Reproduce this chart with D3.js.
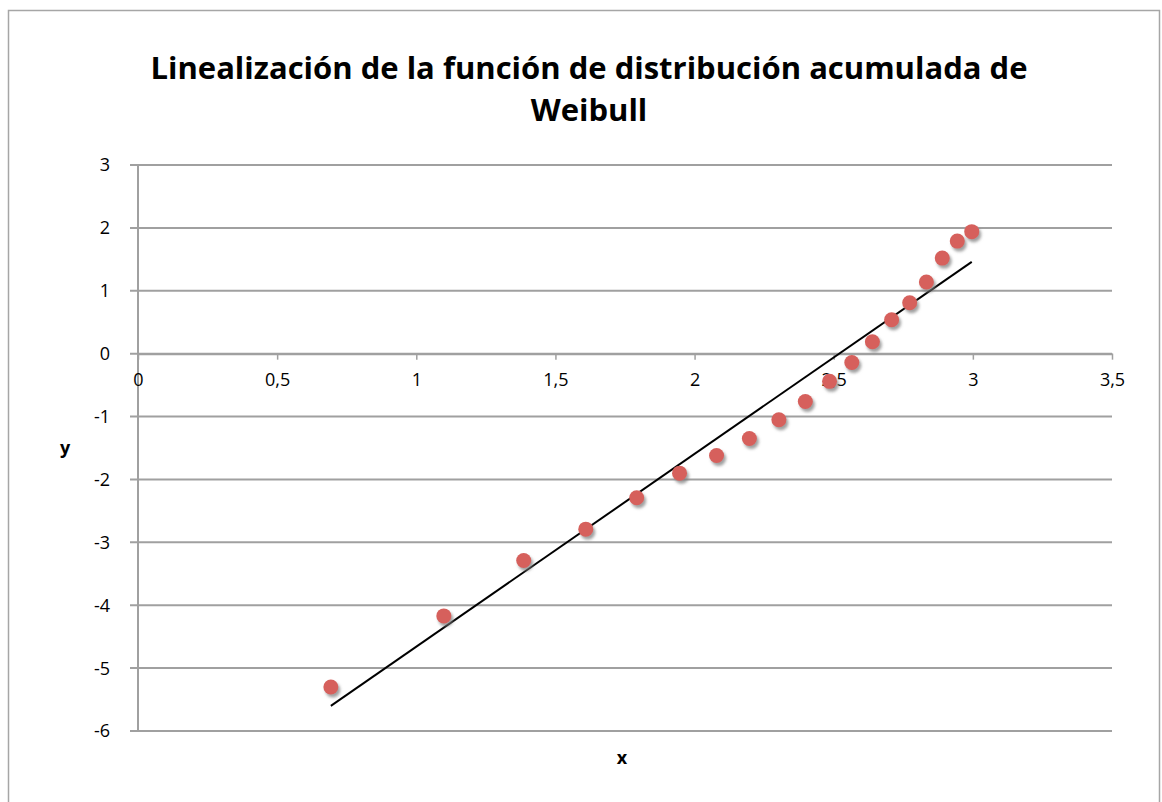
<!DOCTYPE html>
<html>
<head>
<meta charset="utf-8">
<script src="https://cdn.jsdelivr.net/npm/d3@7"></script>
<style>
  body { margin: 0; background: #fff; }
  svg text { font-family: "Open Sans", "Liberation Sans", sans-serif; fill: #000; }
</style>
</head>
<body>
<div id="chart"></div>
<script>
// data: x = ln(t), y = ln(-ln(1-F))
var xValues = [0.693, 1.099, 1.386, 1.609, 1.792, 1.946, 2.079, 2.197, 2.303, 2.398,
               2.485, 2.565, 2.639, 2.708, 2.773, 2.833, 2.890, 2.944, 2.996];
var yValues = [-5.30, -4.17, -3.29, -2.79, -2.29, -1.90, -1.62, -1.35, -1.05, -0.76,
               -0.44, -0.14, 0.19, 0.54, 0.81, 1.14, 1.52, 1.79, 1.94];

// linear trendline endpoints
var trendX = [0.693, 2.996];
var trendY = [-5.60, 1.46];

var xTicks = [0, 0.5, 1, 1.5, 2, 2.5, 3, 3.5];
var yTicks = [-6, -5, -4, -3, -2, -1, 0, 1, 2, 3];

var titleLines = ["Linealización de la función de distribución acumulada de", "Weibull"];

var width = 1162,
    height = 802;

var svg = d3.select("#chart").append("svg")
    .attr("width", width)
    .attr("height", height);

// outer chart border
svg.append("rect")
    .attr("x", 8.5).attr("y", 10.5)
    .attr("width", 1151).attr("height", 820)
    .attr("fill", "none")
    .attr("stroke", "#a6a6a6")
    .attr("stroke-width", 1.5);

var defs = svg.append("defs");
var shadow = defs.append("filter")
    .attr("id", "shadow")
    .attr("x", "-50%").attr("y", "-50%")
    .attr("width", "200%").attr("height", "200%");
shadow.append("feDropShadow")
    .attr("dx", 2).attr("dy", 3)
    .attr("stdDeviation", 1.8)
    .attr("flood-color", "#777")
    .attr("flood-opacity", 0.7);

var x = d3.scaleLinear().domain([0, 3.5]).range([138, 1112]);
var y = d3.scaleLinear().domain([-6, 3]).range([731, 165]);

// horizontal gridlines
svg.append("g")
    .selectAll("line")
    .data(yTicks)
    .enter().append("line")
    .attr("x1", x(0) - 8)
    .attr("x2", x(3.5))
    .attr("y1", function(d) { return y(d); })
    .attr("y2", function(d) { return y(d); })
    .attr("stroke", "#a0a0a0")
    .attr("stroke-width", 2);

// y axis line
svg.append("line")
    .attr("x1", x(0)).attr("x2", x(0))
    .attr("y1", y(3)).attr("y2", y(-6))
    .attr("stroke", "#a0a0a0")
    .attr("stroke-width", 2);

// y tick labels
svg.append("g")
    .selectAll("text")
    .data(yTicks)
    .enter().append("text")
    .attr("x", 110)
    .attr("y", function(d) { return y(d); })
    .attr("dy", "0.36em")
    .attr("text-anchor", "end")
    .attr("font-size", 18)
    .text(function(d) { return String(d); });

// x axis at y = 0
var xAxis = svg.append("g")
    .attr("transform", "translate(0," + y(0) + ")")
    .call(d3.axisBottom(x)
        .tickValues(xTicks)
        .tickSize(6)
        .tickSizeOuter(0)
        .tickPadding(14)
        .tickFormat(function(d) { return String(d).replace(".", ","); }));
xAxis.select(".domain").attr("stroke", "#a0a0a0").attr("stroke-width", 2);
xAxis.selectAll(".tick line").attr("stroke", "#a0a0a0").attr("stroke-width", 1.5);
xAxis.selectAll(".tick text")
    .attr("font-size", 18)
    .attr("font-family", "\"Open Sans\", \"Liberation Sans\", sans-serif")
    .attr("fill", "#000");

// trendline
svg.append("line")
    .attr("x1", x(trendX[0])).attr("y1", y(trendY[0]))
    .attr("x2", x(trendX[1])).attr("y2", y(trendY[1]))
    .attr("stroke", "#000")
    .attr("stroke-width", 2);

// points
svg.append("g")
    .attr("filter", "url(#shadow)")
    .selectAll("circle")
    .data(xValues)
    .enter().append("circle")
    .attr("cx", function(d) { return x(d); })
    .attr("cy", function(d, i) { return y(yValues[i]); })
    .attr("r", 7.5)
    .attr("fill", "#d6605c");

// title
svg.append("g")
    .selectAll("text")
    .data(titleLines)
    .enter().append("text")
    .attr("x", 589)
    .attr("y", function(d, i) { return 79 + i * 42; })
    .attr("text-anchor", "middle")
    .attr("font-size", 31)
    .attr("font-weight", "bold")
    .text(function(d) { return d; });

// axis titles
svg.append("text")
    .attr("x", 622).attr("y", 764)
    .attr("text-anchor", "middle")
    .attr("font-size", 18)
    .attr("font-weight", "bold")
    .text("x");

svg.append("text")
    .attr("x", 65).attr("y", 454)
    .attr("text-anchor", "middle")
    .attr("font-size", 18)
    .attr("font-weight", "bold")
    .text("y");
</script>
</body>
</html>
